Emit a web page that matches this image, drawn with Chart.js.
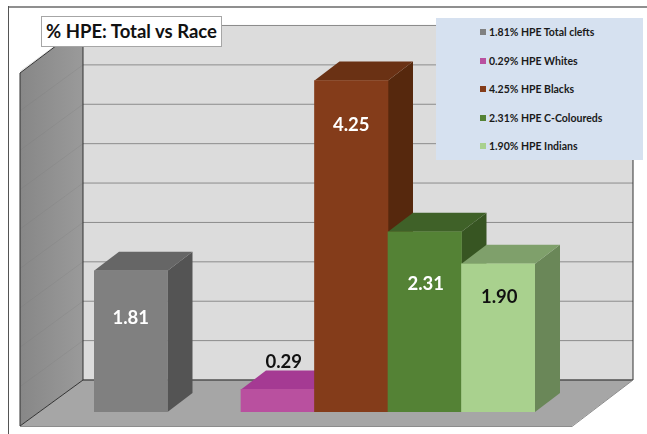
<!DOCTYPE html>
<html>
<head>
    <title>% HPE: Total vs Race</title>
    <script src="https://cdnjs.cloudflare.com/ajax/libs/Chart.js/4.4.1/chart.umd.min.js"></script>
    <style>
        html, body { margin: 0; padding: 0; background: #fff; }
        body { width: 647px; height: 434px; position: relative; overflow: hidden; font-family: Lato, "Open Sans", sans-serif; }
        #hpeChart { position: absolute; left: 0; top: 0; }
        #chartTitle {
            position: absolute; left: 41px; top: 16px; width: 179px; height: 29px; line-height: 29px;
            background: #fff; border: 1px solid #a6a6a6; text-align: center;
            font-size: 18.5px; font-weight: 700; color: #111; white-space: nowrap;
        }
        #legendBox { position: absolute; left: 436px; top: 18px; width: 207px; height: 142px; background: #d6e1f0; }
        .legendItem { position: absolute; left: 44px; height: 16px; line-height: 16px; font-size: 10.5px; font-weight: 700; color: #1a1a1a; white-space: nowrap; }
        .legendItem i { display: inline-block; width: 6px; height: 6px; margin-right: 3px; vertical-align: 1px; }
    </style>
</head>
<body>
    <canvas id="hpeChart" width="647" height="434"></canvas>
    <div id="chartTitle">% HPE: Total vs Race</div>
    <div id="legendBox"></div>

    <script>
        // empty slot after the total bar keeps the gap between it and the race bars
        const categories = ['Total clefts', '', 'Whites', 'Blacks', 'C-Coloureds', 'Indians'];
        const hpeValues = [1.81, null, 0.29, 4.25, 2.31, 1.90];

        const frontColors = ['#808080', null, '#b9509f', '#843c1a', '#548235', '#a9d18e'];
        const topColors = ['#666666', null, '#a53a93', '#6a3114', '#3f6128', '#7fa06b'];
        const sideColors = ['#545454', null, '#8c2f7c', '#56280d', '#375522', '#6a8758'];
        const labelColors = ['#fff', null, '#111', '#fff', '#fff', '#111'];
        const labelOffsetsY = [47, null, -27, 45, 52, 33];
        const labelOffsetsX = [0, null, 6, 0, 1, 1];

        // how far the floor and back wall sit behind the bars
        const barDepthX = 25, barDepthY = 19;
        const wallShiftY = 32;
        const wallScale = 1.01; // back wall gridlines are a touch wider apart than the bars' scale

        // legend
        const legendBox = document.getElementById('legendBox');
        let row = 0;
        categories.forEach((name, i) => {
            if (hpeValues[i] === null) return;
            const item = document.createElement('div');
            item.className = 'legendItem';
            item.style.top = (6 + row * 28.5) + 'px';
            const swatch = document.createElement('i');
            swatch.style.background = frontColors[i];
            item.appendChild(swatch);
            item.appendChild(document.createTextNode(hpeValues[i].toFixed(2) + '% HPE ' + name));
            legendBox.appendChild(item);
            row++;
        });

        function fillPoly(ctx, pts, color) {
            ctx.beginPath();
            ctx.moveTo(pts[0][0], pts[0][1]);
            pts.slice(1).forEach(p => ctx.lineTo(p[0], p[1]));
            ctx.closePath();
            ctx.fillStyle = color;
            ctx.fill();
        }

        const roomPlugin = {
            id: 'room',
            beforeDatasetsDraw(chart) {
                const ctx = chart.ctx;
                const y = chart.scales.y;
                const wallL = 83, wallR = 633, frontL = 20, frontR = 572, frontB = 426;
                const base = y.getPixelForValue(0);
                const floorY = base - wallShiftY;
                const wallPixel = v => floorY - (base - y.getPixelForValue(v)) * wallScale;
                const topY = wallPixel(4.5);

                // page frame
                ctx.fillStyle = '#8f8f8f';
                ctx.fillRect(8, 6, 639, 2);
                ctx.fillStyle = '#555';
                ctx.fillRect(8, 6, 1, 428);

                fillPoly(ctx, [[wallL, topY], [wallR, topY], [wallR, floorY], [wallL, floorY]], '#dcdcdc');

                const leftGrad = ctx.createLinearGradient(frontL, 0, wallL, 0);
                leftGrad.addColorStop(0, '#878787');
                leftGrad.addColorStop(1, '#9a9a9a');
                fillPoly(ctx, [[frontL, frontB - 353], [wallL, topY], [wallL, floorY], [frontL, frontB]], leftGrad);
                fillPoly(ctx, [[wallL, floorY], [wallR, floorY], [frontR, frontB], [frontL, frontB]], '#a6a6a6');

                // gridlines come from the y scale ticks
                y.ticks.forEach(t => {
                    const py = wallPixel(t.value);
                    ctx.lineWidth = 1;
                    ctx.strokeStyle = '#8c8c8c';
                    ctx.beginPath();
                    ctx.moveTo(wallL, py);
                    ctx.lineTo(wallR, py);
                    ctx.stroke();
                    ctx.strokeStyle = 'rgba(120,120,120,0.22)';
                    ctx.beginPath();
                    ctx.moveTo(wallL, py);
                    ctx.lineTo(frontL, py + frontB - floorY);
                    ctx.stroke();
                });

                ctx.strokeStyle = '#333';
                ctx.lineWidth = 1;
                ctx.beginPath();
                ctx.moveTo(frontL, frontB - 353);
                ctx.lineTo(wallL, topY);
                ctx.moveTo(wallL, topY);
                ctx.lineTo(wallL, floorY);
                ctx.lineTo(wallR, floorY);
                ctx.lineTo(wallR, topY);
                ctx.moveTo(frontL, frontB - 353);
                ctx.lineTo(frontL, frontB);
                ctx.lineTo(wallL, floorY);
                ctx.stroke();
                ctx.strokeStyle = '#8c8c8c';
                ctx.beginPath();
                ctx.moveTo(frontL, frontB + 0.5);
                ctx.lineTo(frontR, frontB + 0.5);
                ctx.lineTo(wallR, floorY);
                ctx.moveTo(wallL, topY);
                ctx.lineTo(wallR, topY);
                ctx.stroke();

                // bar sides and tops, left to right so the later bars overlap
                chart.getDatasetMeta(0).data.forEach((bar, i) => {
                    if (hpeValues[i] === null) return;
                    const l = bar.x - bar.width / 2, r = bar.x + bar.width / 2;
                    fillPoly(ctx, [[r, bar.y], [r + barDepthX, bar.y - barDepthY], [r + barDepthX, bar.base - barDepthY], [r, bar.base]], sideColors[i]);
                    fillPoly(ctx, [[l, bar.y], [l + barDepthX, bar.y - barDepthY], [r + barDepthX, bar.y - barDepthY], [r, bar.y]], topColors[i]);
                });
            },
            afterDatasetsDraw(chart) {
                const ctx = chart.ctx;
                ctx.font = '700 18.5px Lato, "Open Sans", sans-serif';
                ctx.textAlign = 'center';
                ctx.textBaseline = 'middle';
                chart.getDatasetMeta(0).data.forEach((bar, i) => {
                    if (hpeValues[i] === null) return;
                    ctx.fillStyle = labelColors[i];
                    ctx.fillText(hpeValues[i].toFixed(2), bar.x + labelOffsetsX[i], bar.y + labelOffsetsY[i]);
                });
            }
        };

        new Chart(document.getElementById('hpeChart').getContext('2d'), {
            type: 'bar',
            data: {
                labels: categories,
                datasets: [{
                    data: hpeValues,
                    backgroundColor: frontColors,
                    barPercentage: 1,
                    categoryPercentage: 1
                }]
            },
            options: {
                responsive: false,
                animation: false,
                layout: { padding: { left: 94, right: 112, top: 61, bottom: 22 } },
                plugins: { legend: { display: false }, title: { display: false }, tooltip: { enabled: false } },
                scales: {
                    x: { display: false },
                    y: { display: false, min: 0, max: 4.5, ticks: { stepSize: 0.5 } }
                }
            },
            plugins: [roomPlugin]
        });
    </script>
</body>
</html>
